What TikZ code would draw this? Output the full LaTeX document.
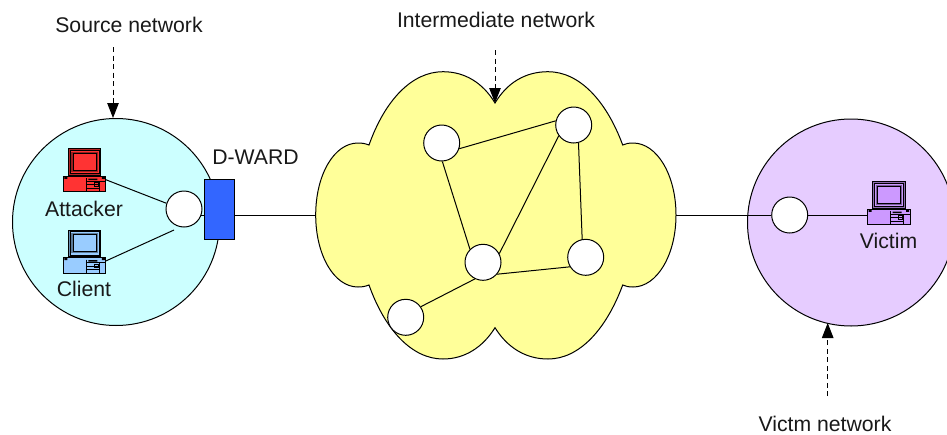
\documentclass[tikz,border=0pt]{standalone}
\usepackage{fontspec}
\setmainfont{Liberation Sans}
\usetikzlibrary{arrows.meta}
\definecolor{srcfill}{HTML}{CCFFFF}
\definecolor{cloudfill}{HTML}{FFFF99}
\definecolor{vicfill}{HTML}{E6CCFF}
\definecolor{boxfill}{HTML}{3366FF}
\definecolor{atkpc}{HTML}{FF3333}
\definecolor{clipc}{HTML}{99CCFF}
\definecolor{vicpc}{HTML}{CC99FF}
\tikzset{
  net/.style={circle,draw=black,line width=1pt,inner sep=0pt,minimum size=207pt},
  router/.style={circle,draw=black,fill=white,line width=1pt,inner sep=0pt,minimum size=36pt},
  dward/.style={rectangle,draw=black,fill=boxfill,line width=0.8pt,inner sep=0pt,minimum width=30pt,minimum height=60pt},
  lbl/.style={font=\fontsize{21.2}{24}\selectfont,anchor=base,inner sep=0pt,text=black!90},
  link/.style={draw=black,line width=1pt},
  callout/.style={draw=black,line width=1pt,dash pattern=on 5pt off 3.5pt,-{Triangle[length=15pt,width=11.5pt]}},
  pics/computer/.style={code={
    \path[fill=#1!70!black,draw=black,line width=0.7pt] (0,0) rectangle (32.5,26.5);
    \path[fill=#1,draw=black,line width=0.5pt] (1.5,1.5) rectangle (31,25);
    \path[fill=#1!60!black] (3,3) rectangle (29.5,23);
    \path[fill=#1,draw=black,line width=0.4pt] (4.5,4.5) rectangle (28,21.5);
    \path[fill=#1!60!black,draw=black,line width=0.4pt] (3,26.5) rectangle (29.5,28);
    \path[fill=#1,draw=black,line width=0.8pt] (-5,27.5) rectangle (37.5,43);
    \draw[black,line width=0.5pt] (17.5,29.5) -- (17.5,43) (17.5,32.5) -- (37.5,32.5) (17.5,36) -- (31,36) (17.5,39.5) -- (31,39.5) (31,32.5) -- (31,43);
    \path[fill=black] (-4,28.2) rectangle (-1,30.2) (33.5,28.2) rectangle (36.5,30.2) (20,30) rectangle (29,31.5);
    \path[draw=black,line width=0.5pt] (26,34) rectangle (29.5,37.5);
    \coordinate (-port) at (37.5,31);
    \coordinate (-left) at (-5,32.5);
  }}
}
\begin{document}
\begin{tikzpicture}[x=1pt,y=-1pt]
  \useasboundingbox (0,0) rectangle (947,434);
  \clip (0,0) rectangle (947,434);
  \fill[white] (0,0) rectangle (947,434);

  % networks
  \node[net,fill=srcfill] (src) at (116,222) {};
  \node[net,fill=vicfill] (vic) at (851,222.5) {};

  % cloud
  \path[fill=cloudfill,draw=black,line width=1pt]
    (369,145) .. controls (385,100) and (412,71.7) .. (443,71.7)
    .. controls (465,71.7) and (483,83) .. (495,103)
    .. controls (507,83) and (525,71.7) .. (548,71.7)
    .. controls (579,71.7) and (606,100) .. (622.7,145)
    .. controls (626,143.5) and (629,143) .. (633,143)
    .. controls (657,143) and (676,175) .. (676,215)
    .. controls (676,255) and (657,287) .. (633,287)
    .. controls (629,287) and (626,286.5) .. (622.7,285)
    .. controls (606,330) and (579,359) .. (548,359)
    .. controls (525,359) and (507,347) .. (495,327.7)
    .. controls (483,347) and (465,359) .. (443,359)
    .. controls (412,359) and (385,330) .. (369,285)
    .. controls (365,286.5) and (362,287) .. (358,287)
    .. controls (334,287) and (315.7,255) .. (315.7,215)
    .. controls (315.7,175) and (334,143) .. (358,143)
    .. controls (362,143) and (365,143.5) .. (369,145) -- cycle;
  \coordinate (cloudL) at (315.7,215);
  \coordinate (cloudR) at (676,215);
  \coordinate (cloudTop) at (495,103);

  % computers
  \pic (atk) at (68.3,148.7) {computer=atkpc};
  \pic (cli) at (68.3,230) {computer=clipc};
  \pic (vpc) at (872.5,181.7) {computer=vicpc};

  % routers
  \node[router] (r0) at (184,209) {};
  \node[router] (r1) at (441.7,143) {};
  \node[router] (r2) at (573.7,125) {};
  \node[router] (r3) at (483,262.3) {};
  \node[router] (r4) at (585.7,257.3) {};
  \node[router] (r5) at (405.7,317.3) {};
  \node[router] (r6) at (789.7,215) {};

  % D-WARD box
  \node[dward] (box) at (219.5,209) {};

  % links
  \coordinate (cliEnd) at (174,230);
  \draw[link] (atk-port) -- (r0.162);
  \draw[link] (cli-port) -- (cliEnd);
  \draw[link] (r0.-19) -- (r0.-19 -| box.west);
  \draw[link] (box.east |- cloudL) -- (cloudL);
  \draw[link] (cloudR) -- (r6.west |- cloudR);
  \draw[link] (r6.east) -- (vpc-left |- r6.east);
  \draw[link] (r1.-18) -- (r2.167);
  \draw[link] (r1.-88) -- (r3.135);
  \draw[link] (r2.216) -- (r3.28);
  \draw[link] (r2.-75) -- (r4.101);
  \draw[link] (r3.-40) -- (r4.211);
  \draw[link] (r3.244) -- (r5.35);

  % callouts
  \coordinate (srcFrom) at (113,47);
  \coordinate (cloudFrom) at (495,50);
  \coordinate (vicFrom) at (827.7,396);
  \draw[callout] (srcFrom) -- (srcFrom |- src.north);
  \draw[callout] (cloudFrom) -- (cloudTop);
  \coordinate (vicTip) at (827.7,323);
  \draw[callout] (vicFrom) -- (vicTip);

  % labels
  \node[lbl] (tsrc) at (129,32) {Source network};
  \node[lbl] (tint) at (496,27) {Intermediate network};
  \node[lbl] (tdw) at (255.5,164.5) {D-WARD};
  \node[lbl] (tatk) at (84,216) {Attacker};
  \node[lbl] (tcli) at (84,296.5) {Client};
  \node[lbl] (tvic) at (888.5,248.5) {Victim};
  \node[lbl] (tvn) at (825,431) {Victm network};
\end{tikzpicture}
\end{document}
